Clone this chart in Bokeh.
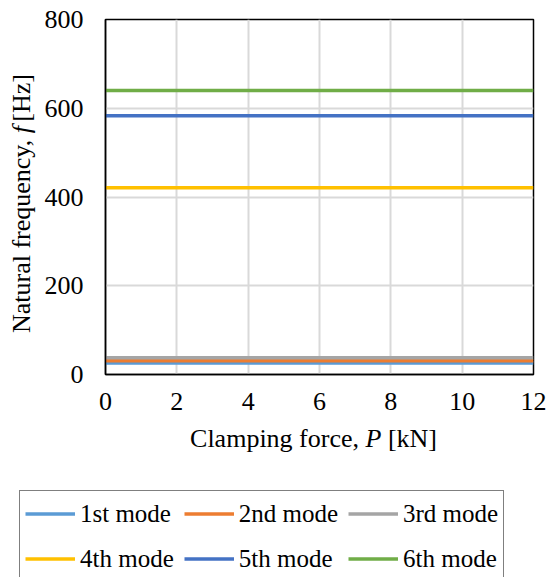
import math
from bokeh.plotting import figure
from bokeh.layouts import column, row
from bokeh.models import Range1d, FixedTicker, Legend, LegendItem, Label
from bokeh.embed import file_html
from bokeh.resources import INLINE

# ---- data ----
clamping_force = [0, 2, 4, 6, 8, 10, 12]
mode1 = [26, 26, 26, 26, 26, 26, 26]
mode2 = [31, 31, 31, 31, 31, 31, 31]
mode3 = [38, 38, 38, 38, 38, 38, 38]
mode4 = [421, 421, 421, 421, 421, 421, 421]
mode5 = [583, 583, 583, 583, 583, 583, 583]
mode6 = [640, 640, 640, 640, 640, 640, 640]
mode_names = ["1st mode", "2nd mode", "3rd mode", "4th mode", "5th mode", "6th mode"]
mode_colors = ["#5B9BD5", "#ED7D31", "#A5A5A5", "#FFC000", "#4472C4", "#70AD47"]
x_ticks = [0, 2, 4, 6, 8, 10, 12]
y_ticks = [0, 200, 400, 600, 800]
series = [mode1, mode2, mode3, mode4, mode5, mode6]

FONT = "Liberation Serif"
TOP_H = 421          # height of the upper row (y-label strip + main chart)
YSTRIP_W = 40        # width of y-label strip
W = 548
H = 577
BOT_H = H - TOP_H
LFS = 26             # axis-label font size (px)
SPACE = 0.25 * LFS


def blank_fig(w, h, xr, yr):
    f = figure(width=w, height=h, output_backend="svg", toolbar_location=None,
               x_range=xr, y_range=yr, x_axis_location=None, y_axis_location=None,
               min_border_left=0, min_border_right=0, min_border_top=0, min_border_bottom=0)
    f.outline_line_color = None
    f.background_fill_color = "white"
    f.border_fill_color = "white"
    f.xgrid.visible = False
    f.ygrid.visible = False
    return f


# ---------- main chart ----------
p = figure(width=W - YSTRIP_W, height=TOP_H, output_backend="svg", toolbar_location=None,
           x_range=Range1d(0, 12), y_range=Range1d(0, 800),
           min_border_left=105 - YSTRIP_W, min_border_right=15, min_border_top=19,
           min_border_bottom=TOP_H - 374)
p.background_fill_color = "white"
p.border_fill_color = "white"
p.outline_line_color = "black"
p.outline_line_width = 1.5

for ax in (p.xaxis[0], p.yaxis[0]):
    ax.axis_line_color = "black"
    ax.axis_line_width = 1.5
    ax.major_tick_in = 0
    ax.major_tick_out = 0
    ax.minor_tick_line_color = None
    ax.major_label_text_font = FONT
    ax.major_label_text_font_size = "26px"
    ax.major_label_text_color = "black"
p.xaxis[0].ticker = FixedTicker(ticks=x_ticks)
p.yaxis[0].ticker = FixedTicker(ticks=y_ticks)
p.xaxis[0].major_label_standoff = 18
p.yaxis[0].major_label_standoff = 22

for g in (p.xgrid[0], p.ygrid[0]):
    g.grid_line_color = "#d9d9d9"
    g.grid_line_width = 2
p.xgrid[0].ticker = FixedTicker(ticks=x_ticks)
p.ygrid[0].ticker = FixedTicker(ticks=y_ticks)

for vals, col in zip(series, mode_colors):
    p.line(clamping_force, vals, line_color=col, line_width=3.5)

# ---------- y-axis label strip ----------
fy = blank_fig(YSTRIP_W, TOP_H, Range1d(0, YSTRIP_W), Range1d(TOP_H, 0))
vf = 0.278 * LFS     # italic "f"
f_pos = 135.0        # canvas y where the italic f starts (text runs upward)
bx = 21
ang = math.pi / 2
fy.add_layout(Label(x=bx, y=f_pos, text="Natural frequency, ", angle=ang,
                    text_font=FONT, text_font_size=f"{LFS}px", text_align="right",
                    text_baseline="alphabetic", text_color="black"))
fy.add_layout(Label(x=bx, y=f_pos, text="f", angle=ang,
                    text_font=FONT, text_font_size=f"{LFS}px", text_font_style="italic",
                    text_align="left", text_baseline="alphabetic", text_color="black"))
fy.add_layout(Label(x=bx, y=f_pos - vf - SPACE, text="[Hz]", angle=ang,
                    text_font=FONT, text_font_size=f"{LFS}px", text_align="left",
                    text_baseline="alphabetic", text_color="black"))

# ---------- bottom strip: x-axis label + legend ----------
fb = blank_fig(W, BOT_H, Range1d(0, W), Range1d(BOT_H, 0))
wP = 0.611 * LFS
p_pos = 365.0
by = 17
fb.add_layout(Label(x=p_pos, y=by, text="Clamping force, ",
                    text_font=FONT, text_font_size=f"{LFS}px", text_align="right",
                    text_baseline="alphabetic", text_color="black"))
fb.add_layout(Label(x=p_pos, y=by, text="P",
                    text_font=FONT, text_font_size=f"{LFS}px", text_font_style="italic",
                    text_align="left", text_baseline="alphabetic", text_color="black"))
fb.add_layout(Label(x=p_pos + wP + SPACE, y=by, text="[kN]",
                    text_font=FONT, text_font_size=f"{LFS}px", text_align="left",
                    text_baseline="alphabetic", text_color="black"))

leg_renderers = []
for vals, col in zip(series, mode_colors):
    r = fb.line(clamping_force, vals, line_color=col, line_width=3.5, visible=False)
    leg_renderers.append(r)

PAD = 5
ROW_H = 35
SP = 10
leg_h = 2 * PAD + 2 * ROW_H + SP
leg_top = 492 - TOP_H
legend = Legend(items=[LegendItem(label=n, renderers=[r]) for n, r in zip(mode_names, leg_renderers)],
                location=(19, BOT_H - (leg_top + leg_h)), orientation="horizontal", ncols=3,
                glyph_width=50, glyph_height=ROW_H, label_height=ROW_H, label_standoff=5,
                spacing=SP, padding=PAD, margin=0,
                label_text_font=FONT, label_text_font_size="25px", label_text_color="black",
                border_line_color="black", border_line_width=1.5,
                background_fill_color="white", background_fill_alpha=1.0)
fb.add_layout(legend, "center")

layout = column(row(fy, p), fb)
open("out.html", "w").write(file_html(layout, INLINE))
